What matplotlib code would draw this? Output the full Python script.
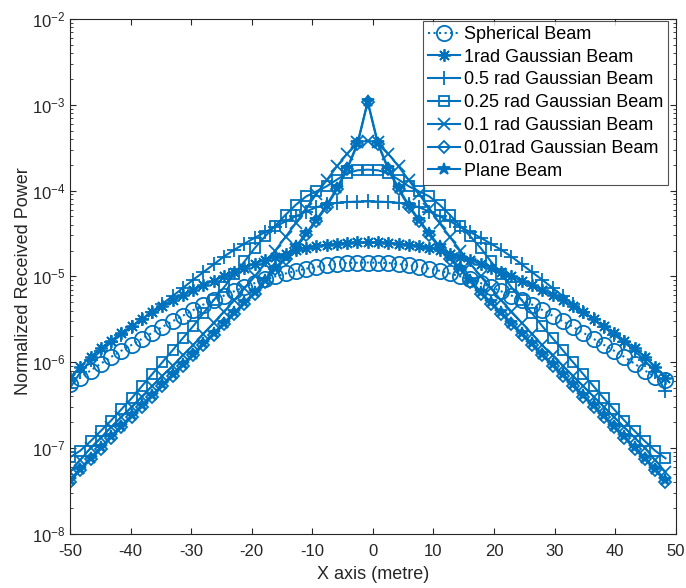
import matplotlib.pyplot as plt
from matplotlib.ticker import LogLocator, NullFormatter, FixedLocator

plt.rcParams['font.family'] = ['Liberation Sans', 'DejaVu Sans']
plt.rcParams['mathtext.fontset'] = 'custom'
plt.rcParams['mathtext.rm'] = 'Liberation Sans'
plt.rcParams['mathtext.default'] = 'regular'
plt.rcParams['axes.unicode_minus'] = False

# receiver positions along the floor (metre)
x_pos = [-50.00, -48.31, -46.61, -44.92, -43.22, -41.53, -39.83, -38.14, -36.44, -34.75,
         -33.05, -31.36, -29.66, -27.97, -26.27, -24.58, -22.88, -21.19, -19.49, -17.80,
         -16.10, -14.41, -12.71, -11.02, -9.32, -7.63, -5.93, -4.24, -2.54, -0.85,
         0.85, 2.54, 4.24, 5.93, 7.63, 9.32, 11.02, 12.71, 14.41, 16.10,
         17.80, 19.49, 21.19, 22.88, 24.58, 26.27, 27.97, 29.66, 31.36, 33.05,
         34.75, 36.44, 38.14, 39.83, 41.53, 43.22, 44.92, 46.61, 48.31]

spherical = [5.5e-7, 6.6e-7, 8.0e-7, 9.6e-7, 1.15e-6, 1.36e-6, 1.59e-6, 1.87e-6, 2.20e-6, 2.58e-6,
             3.00e-6, 3.48e-6, 4.05e-6, 4.70e-6, 5.31e-6, 5.97e-6, 6.70e-6, 7.50e-6, 8.36e-6, 9.25e-6,
             1.00e-5, 1.08e-5, 1.16e-5, 1.23e-5, 1.29e-5, 1.35e-5, 1.39e-5, 1.43e-5, 1.44e-5, 1.45e-5,
             1.44e-5, 1.43e-5, 1.39e-5, 1.35e-5, 1.29e-5, 1.23e-5, 1.16e-5, 1.08e-5, 1.00e-5, 9.25e-6,
             8.36e-6, 7.50e-6, 6.70e-6, 5.97e-6, 5.31e-6, 4.70e-6, 4.05e-6, 3.48e-6, 3.00e-6, 2.58e-6,
             2.20e-6, 1.87e-6, 1.59e-6, 1.36e-6, 1.15e-6, 9.6e-7, 8.0e-7, 6.7e-7, 6.2e-7]

gauss_1rad = [6.6e-7, 8.9e-7, 1.15e-6, 1.45e-6, 1.78e-6, 2.19e-6, 2.63e-6, 3.16e-6, 3.80e-6, 4.47e-6,
              5.25e-6, 6.03e-6, 6.92e-6, 7.94e-6, 8.91e-6, 1.00e-5, 1.12e-5, 1.26e-5, 1.41e-5, 1.55e-5,
              1.70e-5, 1.84e-5, 2.04e-5, 2.16e-5, 2.27e-5, 2.34e-5, 2.41e-5, 2.46e-5, 2.48e-5, 2.48e-5,
              2.48e-5, 2.46e-5, 2.41e-5, 2.34e-5, 2.27e-5, 2.16e-5, 2.04e-5, 1.84e-5, 1.70e-5, 1.55e-5,
              1.41e-5, 1.26e-5, 1.12e-5, 1.00e-5, 8.91e-6, 7.94e-6, 6.92e-6, 6.03e-6, 5.25e-6, 4.47e-6,
              3.80e-6, 3.16e-6, 2.63e-6, 2.19e-6, 1.78e-6, 1.45e-6, 1.15e-6, 8.9e-7, 6.6e-7]

gauss_05rad = [5.0e-7, 7.6e-7, 1.05e-6, 1.35e-6, 1.70e-6, 2.09e-6, 2.57e-6, 3.16e-6, 3.89e-6, 4.79e-6,
               5.89e-6, 7.33e-6, 9.12e-6, 1.12e-5, 1.38e-5, 1.70e-5, 2.04e-5, 2.40e-5, 2.82e-5, 3.27e-5,
               3.80e-5, 4.37e-5, 5.01e-5, 5.69e-5, 6.38e-5, 6.92e-5, 7.19e-5, 7.35e-5, 7.43e-5, 7.46e-5,
               7.43e-5, 7.35e-5, 7.19e-5, 6.92e-5, 6.38e-5, 5.69e-5, 5.01e-5, 4.37e-5, 3.80e-5, 3.27e-5,
               2.82e-5, 2.40e-5, 2.04e-5, 1.70e-5, 1.38e-5, 1.12e-5, 9.12e-6, 7.33e-6, 5.89e-6, 4.79e-6,
               3.89e-6, 3.16e-6, 2.57e-6, 2.09e-6, 1.70e-6, 1.35e-6, 1.05e-6, 7.6e-7, 4.6e-7]

gauss_025rad = [7.8e-8, 9.3e-8, 1.20e-7, 1.58e-7, 2.09e-7, 2.82e-7, 3.80e-7, 5.25e-7, 7.24e-7, 1.00e-6,
                1.38e-6, 1.91e-6, 2.63e-6, 3.73e-6, 5.28e-6, 7.46e-6, 1.06e-5, 1.49e-5, 2.14e-5, 2.92e-5,
                3.89e-5, 5.21e-5, 6.82e-5, 8.53e-5, 9.77e-5, 1.12e-4, 1.34e-4, 1.59e-4, 1.72e-4, 1.75e-4,
                1.72e-4, 1.59e-4, 1.34e-4, 1.12e-4, 9.77e-5, 8.53e-5, 6.82e-5, 5.21e-5, 3.89e-5, 2.92e-5,
                2.14e-5, 1.49e-5, 1.06e-5, 7.46e-6, 5.28e-6, 3.73e-6, 2.63e-6, 1.91e-6, 1.38e-6, 1.00e-6,
                7.24e-7, 5.25e-7, 3.80e-7, 2.82e-7, 2.09e-7, 1.58e-7, 1.20e-7, 9.3e-8, 7.6e-8]

gauss_01rad = [5.25e-8, 7.24e-8, 1.00e-7, 1.32e-7, 1.74e-7, 2.29e-7, 3.02e-7, 3.98e-7, 5.25e-7, 6.92e-7,
               9.12e-7, 1.20e-6, 1.58e-6, 2.14e-6, 2.88e-6, 3.89e-6, 5.25e-6, 7.24e-6, 1.00e-5, 1.41e-5,
               2.00e-5, 2.88e-5, 4.17e-5, 6.17e-5, 9.12e-5, 1.32e-4, 1.91e-4, 2.69e-4, 3.63e-4, 3.80e-4,
               3.63e-4, 2.69e-4, 1.91e-4, 1.32e-4, 9.12e-5, 6.17e-5, 4.17e-5, 2.88e-5, 2.00e-5, 1.41e-5,
               1.00e-5, 7.24e-6, 5.25e-6, 3.89e-6, 2.88e-6, 2.14e-6, 1.58e-6, 1.20e-6, 9.12e-7, 6.92e-7,
               5.25e-7, 3.98e-7, 3.02e-7, 2.29e-7, 1.74e-7, 1.32e-7, 1.00e-7, 7.24e-8, 5.25e-8]

gauss_001rad = [4.07e-8, 5.5e-8, 7.4e-8, 9.7e-8, 1.32e-7, 1.74e-7, 2.29e-7, 3.02e-7, 3.98e-7, 5.25e-7,
                6.9e-7, 9.1e-7, 1.20e-6, 1.59e-6, 2.09e-6, 2.75e-6, 3.63e-6, 4.8e-6, 6.3e-6, 8.7e-6,
                1.21e-5, 1.59e-5, 2.15e-5, 3.04e-5, 4.4e-5, 6.5e-5, 1.03e-4, 1.76e-4, 3.45e-4, 1.07e-3,
                3.45e-4, 1.76e-4, 1.03e-4, 6.5e-5, 4.4e-5, 3.04e-5, 2.15e-5, 1.59e-5, 1.21e-5, 8.7e-6,
                6.3e-6, 4.8e-6, 3.63e-6, 2.75e-6, 2.09e-6, 1.59e-6, 1.20e-6, 9.1e-7, 6.9e-7, 5.25e-7,
                3.98e-7, 3.02e-7, 2.29e-7, 1.74e-7, 1.32e-7, 9.7e-8, 7.4e-8, 5.5e-8, 4.07e-8]

plane = [4.27e-8, 5.75e-8, 7.76e-8, 1.02e-7, 1.38e-7, 1.82e-7, 2.40e-7, 3.16e-7, 4.17e-7, 5.50e-7,
         7.24e-7, 9.55e-7, 1.26e-6, 1.66e-6, 2.19e-6, 2.88e-6, 3.80e-6, 5.01e-6, 6.61e-6, 9.12e-6,
         1.26e-5, 1.66e-5, 2.24e-5, 3.16e-5, 4.57e-5, 6.76e-5, 1.07e-4, 1.82e-4, 3.55e-4, 1.09e-3,
         3.55e-4, 1.82e-4, 1.07e-4, 6.76e-5, 4.57e-5, 3.16e-5, 2.24e-5, 1.66e-5, 1.26e-5, 9.12e-6,
         6.61e-6, 5.01e-6, 3.80e-6, 2.88e-6, 2.19e-6, 1.66e-6, 1.26e-6, 9.55e-7, 7.24e-7, 5.50e-7,
         4.17e-7, 3.16e-7, 2.40e-7, 1.82e-7, 1.38e-7, 1.02e-7, 7.76e-8, 5.75e-8, 4.27e-8]

labels = ['Spherical Beam', '1rad Gaussian Beam', '0.5 rad Gaussian Beam',
          '0.25 rad Gaussian Beam', '0.1 rad Gaussian Beam', '0.01rad Gaussian Beam',
          'Plane Beam']
curves = [spherical, gauss_1rad, gauss_05rad, gauss_025rad, gauss_01rad, gauss_001rad, plane]
blue = '#0072BD'
# marker, line style, marker size, marker fill
styles = [('o', ':', 11, 'none'), ((8, 2, 0), '-', 9, 'none'), ('+', '-', 10, 'none'),
          ('s', '-', 7, 'none'), ('x', '-', 8, 'none'), ('D', '-', 6, 'none'),
          ('*', '-', 9, blue)]

fig = plt.figure(figsize=(6.86, 5.88), dpi=100)
ax = fig.add_axes([0.102, 0.092, 0.883, 0.876])

for vals, lab, (mk, ls, ms, fc) in zip(curves, labels, styles):
    ax.semilogy(x_pos, vals, linestyle=ls, marker=mk, markersize=ms, color=blue,
                markerfacecolor=fc, markeredgewidth=1.3, linewidth=1.5, label=lab)

ax.set_xlim(-50, 50)
ax.set_ylim(1e-8, 1e-2)
ax.set_xticks(range(-50, 51, 10))
ax.yaxis.set_major_locator(FixedLocator([1e-8, 1e-7, 1e-6, 1e-5, 1e-4, 1e-3, 1e-2]))
ax.yaxis.set_minor_locator(LogLocator(base=10, subs=range(2, 10), numticks=20))
ax.yaxis.set_minor_formatter(NullFormatter())
ax.tick_params(which='both', direction='in', top=True, right=True, colors='#262626',
               labelsize=12, labelcolor='#262626')
ax.tick_params(which='major', length=4.2)
ax.tick_params(which='minor', length=2.3)
ax.tick_params(axis='x', pad=7)
for sp in ax.spines.values():
    sp.set_color('#262626')
    sp.set_linewidth(0.8)

ax.set_xlabel('X axis (metre)', fontsize=13, color='#262626', labelpad=5)
ax.set_ylabel('Normalized Received Power', fontsize=13, color='#262626')
ax.yaxis.set_label_coords(-0.063, 0.49)

leg = ax.legend(loc='upper right', bbox_to_anchor=(0.988, 0.996), fontsize=13,
                frameon=True, fancybox=False, edgecolor='#262626', borderaxespad=0,
                handlelength=1.75, labelspacing=0.32, borderpad=0.28, handletextpad=0.25)
leg.get_frame().set_linewidth(0.8)

fig.savefig('out.png', dpi=100)
